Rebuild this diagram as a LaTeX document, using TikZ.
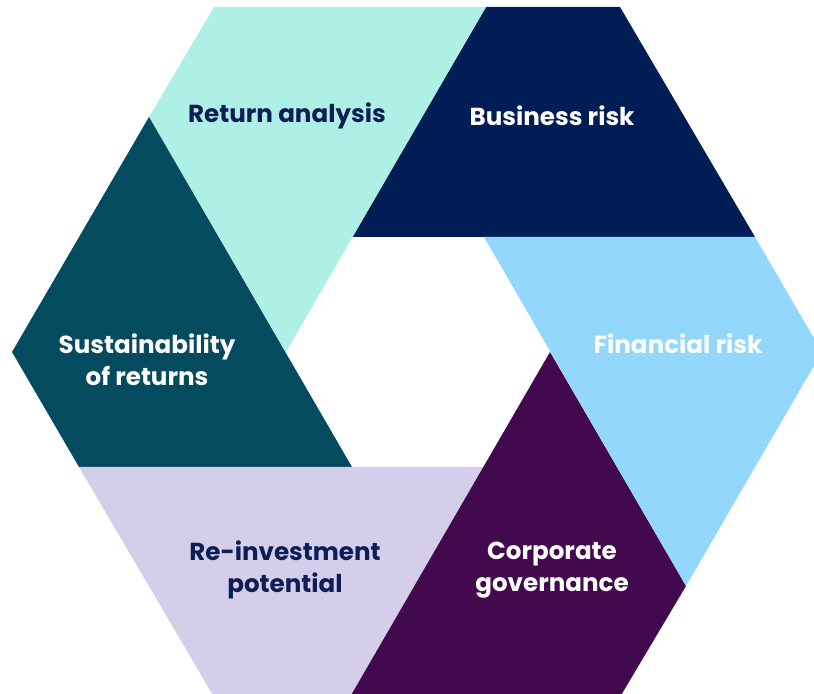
\documentclass[tikz,border=0pt]{standalone}
\usepackage{fontspec}
\setmainfont{Poppins}
\usepackage{tikz}

\definecolor{mint}{RGB}{174,240,230}
\definecolor{navy}{RGB}{0,30,85}
\definecolor{teal}{RGB}{5,75,95}
\definecolor{lavender}{RGB}{212,206,234}
\definecolor{plum}{RGB}{67,9,78}
\definecolor{sky}{RGB}{147,216,252}
\definecolor{ink}{RGB}{13,30,85}

\begin{document}
\begin{tikzpicture}[
x=0.5pt,y=-0.5pt,
piece/.style={draw=none},
label/.style={align=center,font=\bfseries\fontsize{12.3}{16}\selectfont,inner sep=0pt},
dark/.style={label,text=white},
light/.style={label,text=ink}]
\useasboundingbox (0,0) rectangle (814,694);
\clip (0,0) rectangle (814,694);
% outer hexagon
\coordinate (A) at (12,352);
\coordinate (B) at (214,7);
\coordinate (C) at (620,7);
\coordinate (D) at (822,352);
\coordinate (E) at (620,697);
\coordinate (F) at (214,697);
% inner hexagon
\coordinate (a) at (286,352);
\coordinate (b) at (352,237);
\coordinate (c) at (484,237);
\coordinate (d) at (550,352);
\coordinate (e) at (484,467);
\coordinate (f) at (352,467);
% inner edges carried out to the rim
\coordinate (p1) at (755,237);
\coordinate (p2) at (486,7);
\coordinate (p3) at (149,117);
\coordinate (p4) at (79,467);
\coordinate (p5) at (350,697);
\coordinate (p6) at (686,586);
\fill[piece,navy] (b) -- (p1) -- (C) -- (p2) -- cycle;
\fill[piece,mint] (a) -- (p2) -- (B) -- (p3) -- cycle;
\fill[piece,teal] (f) -- (p3) -- (A) -- (p4) -- cycle;
\fill[piece,lavender] (e) -- (p4) -- (F) -- (p5) -- cycle;
\fill[piece,plum] (d) -- (p5) -- (E) -- (p6) -- cycle;
\fill[piece,sky] (c) -- (p6) -- (D) -- (p1) -- cycle;
\node[light] (ret) at (287,116) {Return analysis};
\node[dark] (bus) at (552,116) {Business risk};
\node[dark] (sus) at (147,360) {Sustainability\\of returns};
\node[dark] (fin) at (678,344) {Financial risk};
\node[light] (rei) at (285,570) {Re-investment\\potential};
\node[dark] (cor) at (552,570) {Corporate\\governance};
\end{tikzpicture}
\end{document}
